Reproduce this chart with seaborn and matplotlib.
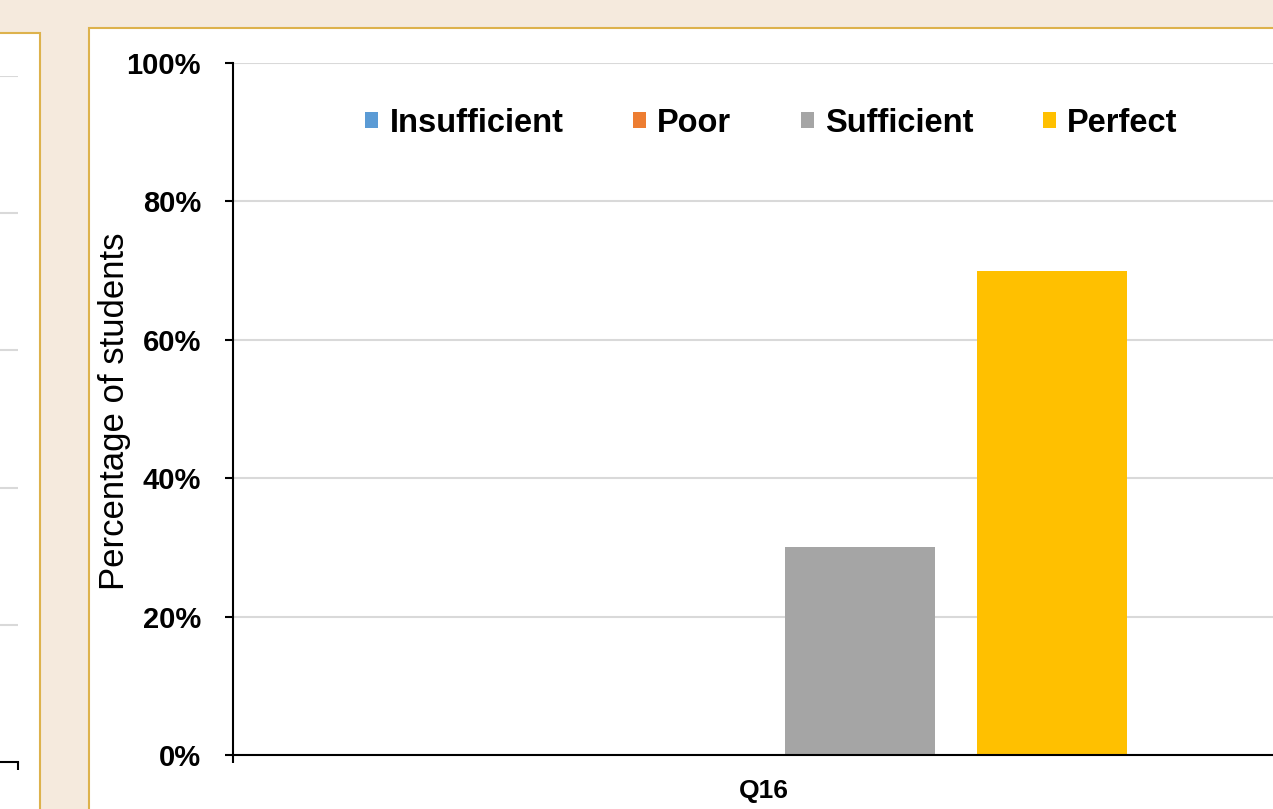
import numpy as np
import pandas as pd
import matplotlib.pyplot as plt
import seaborn as sns
from matplotlib.patches import Rectangle
from matplotlib.ticker import PercentFormatter

# values
questions = ["Q16"]
levels = ["Insufficient", "Poor", "Sufficient", "Perfect"]
percentages = [0, 0, 30, 70]
level_colors = ["#5B9BD5", "#ED7D31", "#A5A5A5", "#FFC000"]
grid_ticks = [0, 20, 40, 60, 80, 100]

df = pd.DataFrame({
    "question": questions * len(levels),
    "level": levels,
    "pct": percentages,
})

sns.set_theme(style="white")
plt.rcParams['font.family'] = ['Liberation Sans', 'DejaVu Sans']
plt.rcParams['text.color'] = 'black'
plt.rcParams['axes.labelcolor'] = 'black'
plt.rcParams['xtick.color'] = 'black'
plt.rcParams['ytick.color'] = 'black'

W, H = 1273, 809
fig = plt.figure(figsize=(W / 100, H / 100), dpi=100)
fig.patch.set_facecolor("#F5EADD")

gold = "#DDB24C"
# white card of the neighbouring chart (cut off on the left)
fig.add_artist(Rectangle((-0.01, -0.02), (41 + 12) / W, (809 - 33) / H + 0.02,
                         transform=fig.transFigure, facecolor="white",
                         edgecolor=gold, linewidth=1.5, zorder=-5))
# white card of the main chart
fig.add_artist(Rectangle((89 / W, -0.02), 1.0, (809 - 28) / H + 0.02,
                         transform=fig.transFigure, facecolor="white",
                         edgecolor=gold, linewidth=1.5, zorder=-5))

# neighbouring chart: only the right end of its grid remains visible
axl = fig.add_axes([-0.5, (809 - 762) / H, 0.5 + 18 / W, (762 - 76) / H])
axl.set_facecolor("none")
axl.set_ylim(0, 100)
axl.set_xlim(0, 1)
axl.set_yticks(grid_ticks[1:])
axl.yaxis.grid(True, color="#D9D9D9", linewidth=1.5)
axl.set_xticks([1])
axl.tick_params(axis="x", bottom=True, length=6, width=1.5, color="black", labelbottom=False)
axl.tick_params(axis="y", left=False, length=0, labelleft=False)
for s in ["top", "right", "left"]:
    axl.spines[s].set_visible(False)
axl.spines["bottom"].set_color("black")
axl.spines["bottom"].set_linewidth(1.5)

# main chart
ax = fig.add_axes([233 / W, (809 - 755) / H, (1295 - 233) / W, (755 - 63) / H])
ax.set_facecolor("none")
sns.barplot(data=df, x="question", y="pct", hue="level", hue_order=levels,
            palette=level_colors, width=0.723, gap=0.215, saturation=1,
            linewidth=0, ax=ax, zorder=3)
ax.set_ylim(0, 100)
ax.set_xlim(-0.5, 0.5)
ax.set_yticks(grid_ticks)
ax.yaxis.set_major_formatter(PercentFormatter(decimals=0))
ax.yaxis.grid(True, color="#D9D9D9", linewidth=1.5, zorder=0)
ax.set_axisbelow(True)

for s in ["top", "right"]:
    ax.spines[s].set_visible(False)
for s in ["left", "bottom"]:
    ax.spines[s].set_color("black")
    ax.spines[s].set_linewidth(1.5)
    ax.spines[s].set_zorder(4)

ax.tick_params(axis="y", left=True, direction="out", length=6, width=1.5,
               color="black", pad=17, labelsize=21)
ax.tick_params(axis="x", bottom=True, length=0, pad=17, labelsize=19)
ax.set_xticks([-0.5], minor=True)
ax.tick_params(axis="x", which="minor", bottom=True, direction="out", length=6,
               width=1.5, color="black")
for lab in ax.get_yticklabels() + ax.get_xticklabels():
    lab.set_fontweight("bold")

ax.set_xlabel("")
ax.set_ylabel("Percentage of students", fontsize=25)
ax.yaxis.set_label_coords(-0.096, 0.497)

sns.move_legend(ax, "center", bbox_to_anchor=(0.507, 0.913), ncol=4,
                frameon=False, title=None, handlelength=0.4, handleheight=0.4,
                handletextpad=0.35, columnspacing=2.12,
                prop={"size": 23.5, "weight": "bold"})

fig.savefig("out.png", dpi=100, facecolor=fig.get_facecolor())
